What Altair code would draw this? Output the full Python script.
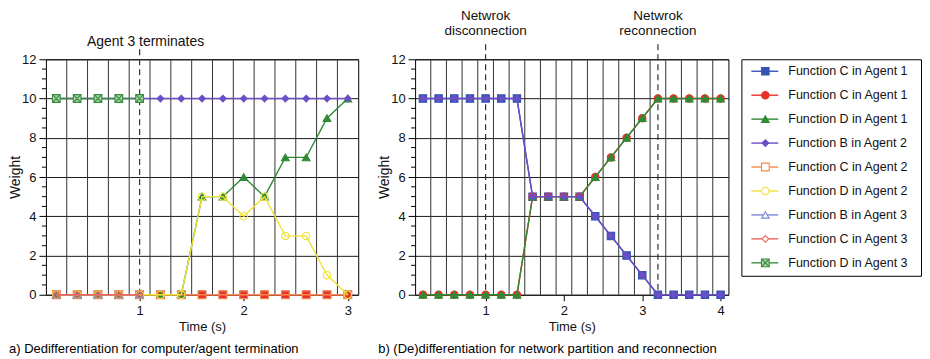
import altair as alt
import pandas as pd

FONT = "Liberation Sans"

# ---------------- series definitions ----------------
series_names = [
    "Function C in Agent 1",
    "Function C in Agent 1",
    "Function D in Agent 1",
    "Function B in Agent 2",
    "Function C in Agent 2",
    "Function D in Agent 2",
    "Function B in Agent 3",
    "Function C in Agent 3",
    "Function D in Agent 3",
]
XSQ = "M-1,-1H1V1H-1Z M-1,-1L1,1 M1,-1L-1,1"
series_colors = ["#3653b3", "#e8312a", "#2f8a36", "#6a4fc6", "#f5884a",
                 "#efe23c", "#7a88d6", "#ef675d", "#3b8c40"]
series_shapes = ["square", "circle", "triangle-up", "diamond", "square",
                 "circle", "triangle-up", "diamond", XSQ]
series_fill = ["#3653b3", "#e8312a", "#2f8a36", "#6a4fc6", "transparent",
               "transparent", "transparent", "transparent", "#a6d6a6"]
series_size = [55, 55, 60, 45, 60, 55, 55, 45, 60]

# ---------------- panel a data ----------------
t_left = [0.2, 0.4, 0.6, 0.8, 1.0, 1.2, 1.4, 1.6, 1.8, 2.0, 2.2, 2.4, 2.6, 2.8, 3.0]
t_left_a3 = [0.2, 0.4, 0.6, 0.8, 1.0]
left_C_A1_sq = [0, 0, 0, 0, 0, 0, 0, 0, 0, 0, 0, 0, 0, 0, 0]
left_C_A1_ci = [0, 0, 0, 0, 0, 0, 0, 0, 0, 0, 0, 0, 0, 0, 0]
left_D_A1 = [0, 0, 0, 0, 0, 0, 0, 5, 5, 6, 5, 7, 7, 9, 10]
left_B_A2 = [10, 10, 10, 10, 10, 10, 10, 10, 10, 10, 10, 10, 10, 10, 10]
left_C_A2 = [0, 0, 0, 0, 0, 0, 0, 0, 0, 0, 0, 0, 0, 0, 0]
left_D_A2 = [0, 0, 0, 0, 0, 0, 0, 5, 5, 4, 5, 3, 3, 1, 0]
left_B_A3 = [0, 0, 0, 0, 0]
left_C_A3 = [0, 0, 0, 0, 0]
left_D_A3 = [10, 10, 10, 10, 10]

# ---------------- panel b data ----------------
t_right = [0.2, 0.4, 0.6, 0.8, 1.0, 1.2, 1.4, 1.6, 1.8, 2.0,
           2.2, 2.4, 2.6, 2.8, 3.0, 3.2, 3.4, 3.6, 3.8, 4.0]
right_C_A1_sq = [10, 10, 10, 10, 10, 10, 10, 5, 5, 5, 5, 4, 3, 2, 1, 0, 0, 0, 0, 0]
right_C_A1_ci = [0, 0, 0, 0, 0, 0, 0, 5, 5, 5, 5, 6, 7, 8, 9, 10, 10, 10, 10, 10]
right_D_A1 = [0, 0, 0, 0, 0, 0, 0, 5, 5, 5, 5, 6, 7, 8, 9, 10, 10, 10, 10, 10]
right_B_A2 = [10, 10, 10, 10, 10, 10, 10, 5, 5, 5, 5, 4, 3, 2, 1, 0, 0, 0, 0, 0]

# ---------------- axes / annotations ----------------
y_ticks = [0, 2, 4, 6, 8, 10, 12]
y_minor = [0.5, 1, 1.5, 2.5, 3, 3.5, 4.5, 5, 5.5, 6.5, 7, 7.5, 8.5, 9, 9.5, 10.5, 11, 11.5]
x_ticks_left = [1, 2, 3]
x_ticks_right = [1, 2, 3, 4]
x_grid_left = [0.3, 0.5, 0.7, 0.9, 1.1, 1.3, 1.5, 1.7, 1.9, 2.1, 2.3, 2.5, 2.7, 2.9]
x_grid_right = [0.3, 0.5, 0.7, 0.9, 1.1, 1.3, 1.5, 1.7, 1.9, 2.1, 2.3, 2.5, 2.7, 2.9,
                3.1, 3.3, 3.5, 3.7, 3.9]
events_left = [1.0]
event_labels_left = ["Agent 3 terminates"]
events_right = [1.0, 3.2]
event_labels_right = ["Netwrok\ndisconnection", "Netwrok\nreconnection"]
caption_left = "a) Dedifferentiation for computer/agent termination"
caption_right = "b) (De)differentiation for network partition and reconnection"

PW_L, PW_R, PH = 313, 314, 236


def panel(series_list, xdomain, xticks, xgrid, events, labels, width, caption,
          label_y, rule_top, font_size, line_h):
    xenc = alt.X("t:Q", scale=alt.Scale(domain=xdomain, nice=False, zero=False),
                 axis=alt.Axis(values=xticks, title="Time (s)", grid=False,
                               domain=False, tickSize=6, labelPadding=4,
                               format="d", titlePadding=3))
    yenc = alt.Y("w:Q", scale=alt.Scale(domain=[0, 12], nice=False),
                 axis=alt.Axis(values=y_ticks, title="Weight", grid=True,
                               gridColor="#1a1a1a", gridOpacity=1, domain=False,
                               tickSize=7, labelPadding=3, titlePadding=-1))
    layers = []
    layers.append(alt.Chart(pd.DataFrame({"t": xgrid})).mark_rule(
        color="#333333", strokeWidth=1).encode(x=xenc))
    layers.append(alt.Chart(pd.DataFrame({"w": y_minor})).mark_rule(
        color="#000", strokeWidth=1).encode(y=yenc, x=alt.value(-4), x2=alt.value(0)))
    layers.append(alt.Chart(pd.DataFrame({"t": events})).mark_rule(
        color="#333333", strokeWidth=1.2, strokeDash=[6, 4]).encode(
        x=xenc, y=alt.value(rule_top), y2=alt.value(PH)))
    layers.append(alt.Chart(pd.DataFrame({"t": events, "label": labels})).mark_text(
        font=FONT, fontSize=font_size, color="#111", baseline="alphabetic",
        lineBreak="\n", lineHeight=line_h, dx=6 if len(events) == 1 else 0).encode(
        x=xenc, y=alt.value(label_y), text="label:N"))
    for i, (ts, vs) in series_list:
        df = pd.DataFrame({"t": ts, "w": vs})
        c = series_colors[i]
        layers.append(alt.Chart(df).mark_line(color=c, strokeWidth=1.4).encode(x=xenc, y=yenc))
        layers.append(alt.Chart(df).mark_point(
            shape=series_shapes[i], filled=True, fill=series_fill[i], stroke=c,
            strokeWidth=1.1, size=series_size[i], opacity=1).encode(x=xenc, y=yenc))
    return alt.layer(*layers).properties(
        width=width, height=PH,
        title=alt.TitleParams(caption, orient="bottom", anchor="start", frame="group",
                              dx=-37, offset=9, fontSize=13, fontWeight="normal",
                              font=FONT))


left = panel(
    [(0, (t_left, left_C_A1_sq)), (1, (t_left, left_C_A1_ci)), (2, (t_left, left_D_A1)),
     (3, (t_left, left_B_A2)), (4, (t_left, left_C_A2)), (5, (t_left, left_D_A2)),
     (6, (t_left_a3, left_B_A3)), (7, (t_left_a3, left_C_A3)), (8, (t_left_a3, left_D_A3))],
    [0.1, 3.1], x_ticks_left, x_grid_left, events_left, event_labels_left, PW_L,
    caption_left, -13, -10, 14, 14)

right = panel(
    [(0, (t_right, right_C_A1_sq)), (1, (t_right, right_C_A1_ci)),
     (2, (t_right, right_D_A1)), (3, (t_right, right_B_A2))],
    [0.1, 4.1], x_ticks_right, x_grid_right, events_right, event_labels_right, PW_R,
    caption_right, -39, -15, 13.5, 15)

# ---------------- legend panel ----------------
yleg = alt.Y("idx:Q", scale=alt.Scale(domain=[-0.5, 8.542], reverse=True, nice=False,
                                      zero=False), axis=None)
leg_layers = []
for i, name in enumerate(series_names):
    d = pd.DataFrame({"idx": [i], "name": [name]})
    c = series_colors[i]
    leg_layers.append(alt.Chart(d).mark_rule(color=c, strokeWidth=1.4).encode(
        y=yleg, x=alt.value(10), x2=alt.value(37)))
    leg_layers.append(alt.Chart(d).mark_point(
        shape=series_shapes[i], filled=True,
        fill=("white" if series_fill[i] == "transparent" else series_fill[i]),
        stroke=c, strokeWidth=1.1, size=series_size[i], opacity=1).encode(
        y=yleg, x=alt.value(24)))
    leg_layers.append(alt.Chart(d).mark_text(
        font=FONT, fontSize=12.5, align="left", baseline="middle", color="#111").encode(
        y=yleg, x=alt.value(47), text="name:N"))
legend = alt.layer(*leg_layers).properties(width=180, height=217)

chart = alt.hconcat(
    left,
    alt.hconcat(right, legend, spacing=13, bounds="flush"),
    spacing=57, bounds="flush",
).properties(
    padding={"left": 0, "top": 0, "right": 0, "bottom": 0}
).configure_view(
    stroke="#000", strokeWidth=1
).configure_axis(
    labelFont=FONT, titleFont=FONT, labelFontSize=13, titleFontSize=13,
    labelColor="#111", titleColor="#111", tickColor="#000", titleFontWeight="normal"
).configure_axisY(titleFontSize=14)

chart.save("out.html", embed_options={"renderer": "svg", "actions": False})
